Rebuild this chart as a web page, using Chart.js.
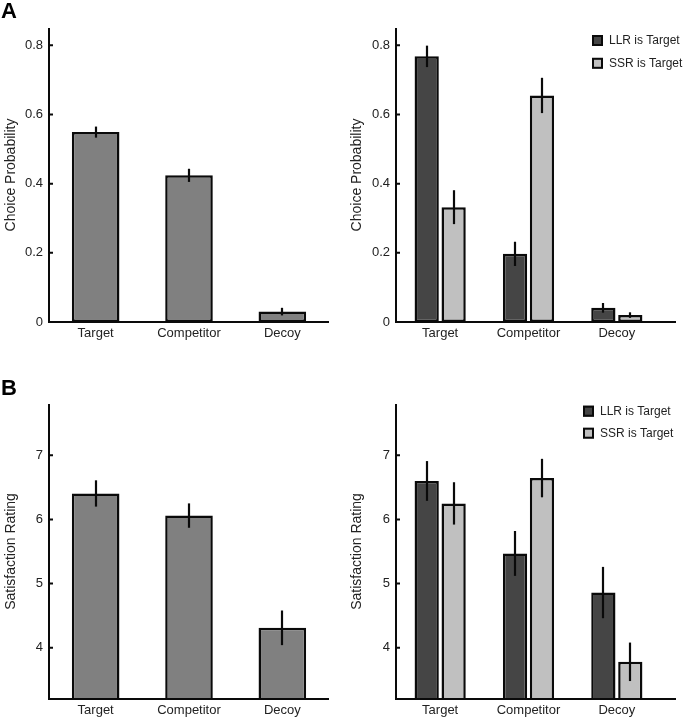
<!DOCTYPE html>
<html>
<head>
<meta charset="utf-8">
<script src="https://cdn.jsdelivr.net/npm/chart.js@4.4.1/dist/chart.umd.min.js"></script>
<style>
  html, body { margin: 0; padding: 0; background: #fff; }
  #wrap { position: relative; width: 686px; height: 720px; }
  .panel { position: absolute; width: 343px; height: 360px; }
  canvas { display: block; }
</style>
</head>
<body>
<div id="wrap">
  <div class="panel" style="left:0;top:0"><canvas id="cA1" width="343" height="360"></canvas></div>
  <div class="panel" style="left:343px;top:0"><canvas id="cA2" width="343" height="360"></canvas></div>
  <div class="panel" style="left:0;top:360px"><canvas id="cB1" width="343" height="360"></canvas></div>
  <div class="panel" style="left:343px;top:360px"><canvas id="cB2" width="343" height="360"></canvas></div>
</div>
<script>
// ---- Data ----
const categories = ['Target', 'Competitor', 'Decoy'];
const seriesLabels = ['LLR is Target', 'SSR is Target'];

const choiceAll    = [0.549, 0.424, 0.030];
const choiceAllErr = [0.016, 0.019, 0.011];
const choiceLLR    = [0.768, 0.197, 0.041];
const choiceLLRErr = [0.031, 0.035, 0.014];
const choiceSSR    = [0.332, 0.655, 0.020];
const choiceSSRErr = [0.049, 0.051, 0.008];

const satAll    = [6.405, 6.06, 4.31];
const satAllErr = [0.205, 0.19, 0.27];
const satLLR    = [6.60, 5.47, 4.86];
const satLLRErr = [0.31, 0.35, 0.40];
const satSSR    = [6.25, 6.645, 3.78];
const satSSRErr = [0.33, 0.30, 0.30];

const choiceTicks = [0, 0.2, 0.4, 0.6, 0.8];
const choiceRange = [0, 0.85];
const satTicks = [4, 5, 6, 7];
const satRange = [3.2, 7.8];

const yTitleChoice = 'Choice Probability';
const yTitleSat = 'Satisfaction Rating';

// ---- Styles ----
const FONT = "'Liberation Sans', Arial, Helvetica, sans-serif";
const INK = '#0a0a0a';
const TXT = '#222222';
const colAll = '#808080';
const colLLR = '#454545';
const colSSR = '#c0c0c0';

const decor = {
  id: 'decor',
  afterDatasetsDraw(chart, args, opts) {
    const ctx = chart.ctx;
    const { left, right, top, bottom } = chart.chartArea;
    const ys = chart.scales.y;
    ctx.save();
    // error bars
    ctx.strokeStyle = INK;
    ctx.lineWidth = 2.2;
    chart.data.datasets.forEach((ds, i) => {
      const meta = chart.getDatasetMeta(i);
      meta.data.forEach((bar, j) => {
        const v = ds.data[j], e = ds.errors[j];
        ctx.beginPath();
        ctx.moveTo(Math.round(bar.x), ys.getPixelForValue(v + e));
        ctx.lineTo(Math.round(bar.x), ys.getPixelForValue(v - e));
        ctx.stroke();
      });
    });
    // axes
    ctx.lineWidth = 2;
    ctx.beginPath();
    ctx.moveTo(left, top);
    ctx.lineTo(left, bottom);
    ctx.lineTo(right + (opts.extend || 0), bottom);
    ctx.stroke();
    // inward ticks
    ctx.beginPath();
    ys.ticks.forEach(t => {
      const py = ys.getPixelForValue(t.value);
      ctx.moveTo(left, py);
      ctx.lineTo(left + 4, py);
    });
    ctx.stroke();
    // legend
    if (opts.legend) {
      const L = opts.legend;
      ctx.font = '12px ' + FONT;
      ctx.textBaseline = 'middle';
      ctx.textAlign = 'left';
      chart.data.datasets.forEach((ds, i) => {
        const y0 = L.y + i * L.dy;
        ctx.fillStyle = ds.backgroundColor;
        ctx.fillRect(L.x, y0, 11, 11);
        ctx.lineWidth = 2;
        ctx.strokeStyle = INK;
        ctx.strokeRect(L.x + 1, y0 + 1, 9, 9);
        ctx.fillStyle = TXT;
        ctx.fillText(ds.label, L.x + 17, y0 + 6);
      });
    }
    // panel letter
    if (opts.letter) {
      ctx.font = 'bold 22px ' + FONT;
      ctx.fillStyle = '#000';
      ctx.textBaseline = 'alphabetic';
      ctx.textAlign = 'left';
      ctx.fillText(opts.letter.text, opts.letter.x, opts.letter.y);
    }
    ctx.restore();
  }
};

function makeChart(id, cfg) {
  const datasets = cfg.series.map(s => ({
    label: s.label,
    data: s.data,
    errors: s.err,
    backgroundColor: s.color,
    borderColor: INK,
    borderWidth: 2.5,
    borderSkipped: false,
    categoryPercentage: cfg.catPct,
    barPercentage: cfg.barPct
  }));
  return new Chart(document.getElementById(id), {
    type: 'bar',
    data: { labels: categories, datasets },
    options: {
      responsive: false,
      animation: false,
      devicePixelRatio: 1,
      layout: { padding: { top: cfg.padTop, left: 0, right: cfg.padRight, bottom: 0 } },
      plugins: {
        legend: { display: false },
        tooltip: { enabled: false },
        decor: { extend: cfg.extend, legend: cfg.legend, letter: cfg.letter }
      },
      scales: {
        x: {
          grid: { display: false, drawTicks: false },
          border: { display: false },
          ticks: { color: TXT, font: { family: FONT, size: 13 }, padding: 4, maxRotation: 0 },
          afterFit: (s) => { s.height = cfg.xHeight; }
        },
        y: {
          min: cfg.range[0],
          max: cfg.range[1],
          grid: { display: false, drawTicks: false },
          border: { display: false },
          afterBuildTicks: (s) => { s.ticks = cfg.ticks.map(v => ({ value: v })); },
          ticks: { color: TXT, font: { family: FONT, size: 13 }, padding: 6, callback: (v) => String(v) },
          title: { display: true, text: cfg.yTitle, color: TXT, font: { family: FONT, size: 14 }, padding: { top: cfg.titlePad, bottom: 0 } },
          afterFit: (s) => { s.width = cfg.yWidth; }
        }
      }
    },
    plugins: [decor]
  });
}

makeChart('cA1', {
  series: [{ label: 'All', data: choiceAll, err: choiceAllErr, color: colAll }],
  catPct: 0.51, barPct: 1,
  padTop: 28, padRight: 14, xHeight: 38, yWidth: 49, titlePad: 2.5,
  range: choiceRange, ticks: choiceTicks, yTitle: yTitleChoice,
  extend: 0, letter: { text: 'A', x: 1, y: 18 }
});
makeChart('cA2', {
  series: [
    { label: seriesLabels[0], data: choiceLLR, err: choiceLLRErr, color: colLLR },
    { label: seriesLabels[1], data: choiceSSR, err: choiceSSRErr, color: colSSR }
  ],
  catPct: 0.61, barPct: 0.9,
  padTop: 28, padRight: 25, xHeight: 38, yWidth: 53, titlePad: 6,
  range: choiceRange, ticks: choiceTicks, yTitle: yTitleChoice,
  extend: 15, legend: { x: 249, y: 35, dy: 22.8 }
});
makeChart('cB1', {
  series: [{ label: 'All', data: satAll, err: satAllErr, color: colAll }],
  catPct: 0.51, barPct: 1,
  padTop: 44, padRight: 14, xHeight: 21, yWidth: 49, titlePad: 2.5,
  range: satRange, ticks: satTicks, yTitle: yTitleSat,
  extend: 0, letter: { text: 'B', x: 1, y: 35 }
});
makeChart('cB2', {
  series: [
    { label: seriesLabels[0], data: satLLR, err: satLLRErr, color: colLLR },
    { label: seriesLabels[1], data: satSSR, err: satSSRErr, color: colSSR }
  ],
  catPct: 0.61, barPct: 0.9,
  padTop: 44, padRight: 25, xHeight: 21, yWidth: 53, titlePad: 6,
  range: satRange, ticks: satTicks, yTitle: yTitleSat,
  extend: 15, legend: { x: 240, y: 45.7, dy: 22 }
});
</script>
</body>
</html>
